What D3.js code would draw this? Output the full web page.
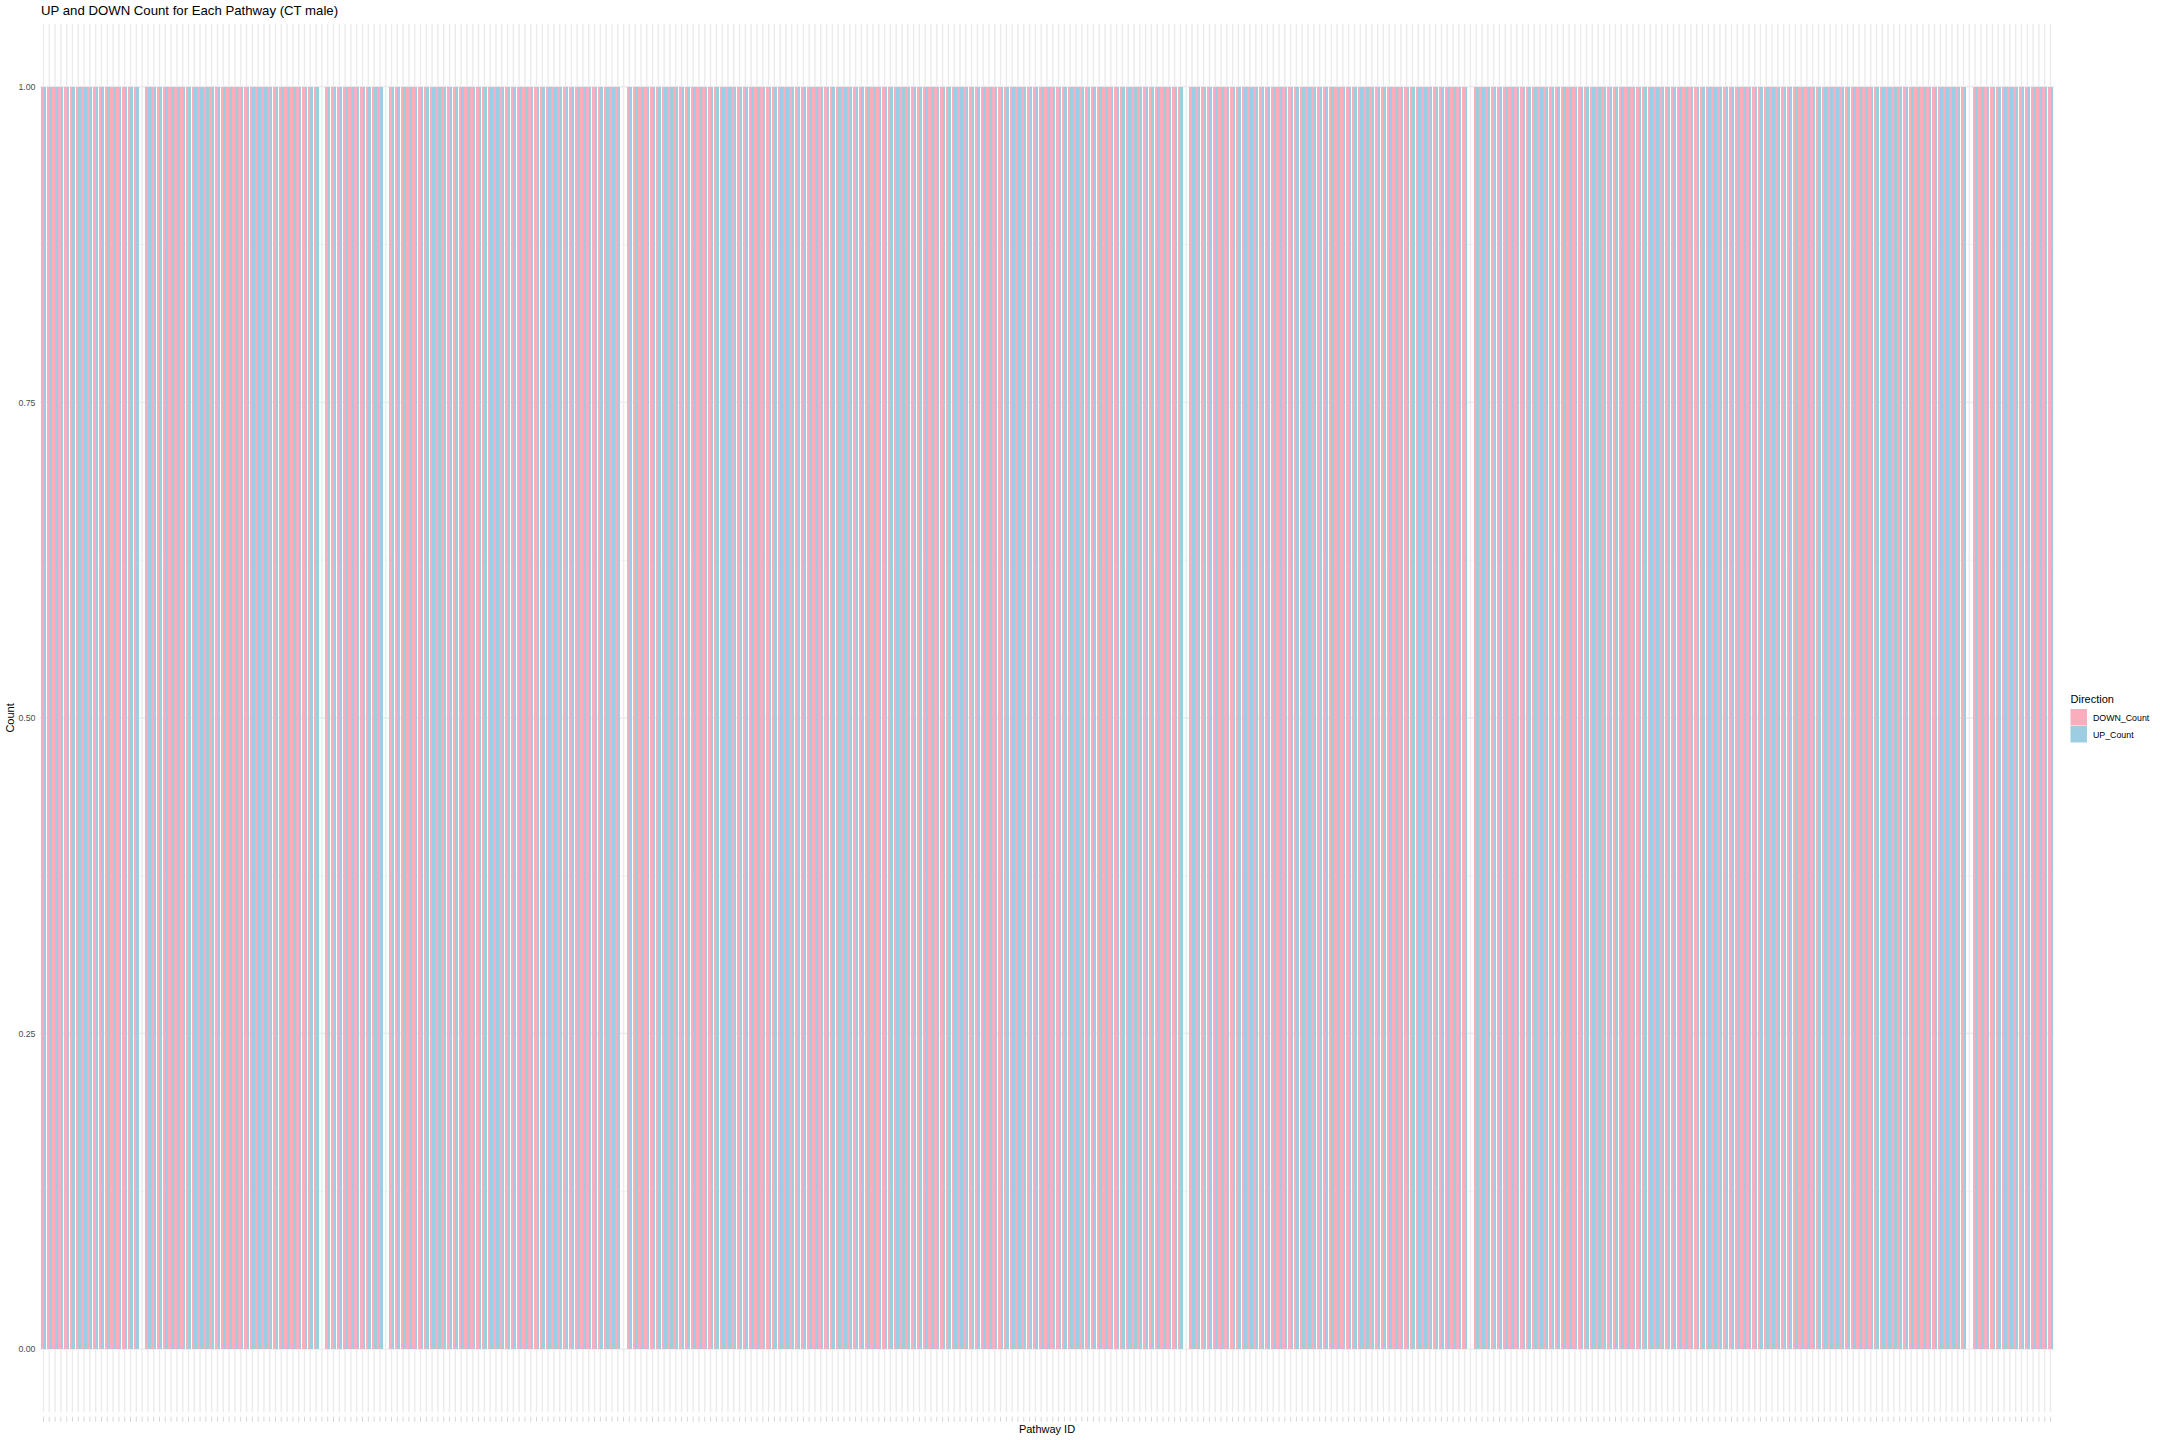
<!DOCTYPE html>
<html>
<head>
<meta charset="utf-8">
<script src="https://cdn.jsdelivr.net/npm/d3@7"></script>
<style>
  body { margin: 0; background: #fff; }
  text { font-family: "Liberation Sans", Arial, sans-serif; }
</style>
</head>
<body>
<div id="chart"></div>
<script>
// 0/1 counts per pathway, read left to right off the picture
const downCount = [
    1,1,1,1,1,1,1,1,1,1,1,1,1,1,1,1,1,0,1,1,
    1,1,1,1,1,1,1,1,1,1,1,1,1,1,1,1,1,1,1,1,
    1,1,1,1,1,1,1,1,0,1,1,1,1,1,1,1,1,1,1,0,
    1,1,1,1,1,1,1,1,1,1,1,1,1,1,1,1,1,1,1,1,
    1,1,1,1,1,1,1,1,1,1,1,1,1,1,1,1,1,1,1,1,
    0,1,1,1,1,1,1,1,1,1,1,1,1,1,1,1,1,1,1,1,
    1,1,1,1,1,1,1,1,1,1,1,1,1,1,1,1,1,1,1,1,
    1,1,1,1,1,1,1,1,1,1,1,1,1,1,1,1,1,1,1,1,
    1,1,1,1,1,1,1,1,1,1,1,1,1,1,1,1,1,1,1,1,
    1,1,1,1,1,1,1,1,1,1,1,1,1,1,1,1,1,0,1,1,
    1,1,1,1,1,1,1,1,1,1,1,1,1,1,1,1,1,1,1,1,
    1,1,1,1,1,1,1,1,1,1,1,1,1,1,1,1,1,1,1,1,
    1,1,1,1,1,1,0,1,1,1,1,1,1,1,1,1,1,1,1,1,
    1,1,1,1,1,1,1,1,1,1,1,1,1,1,1,1,1,1,1,1,
    1,1,1,1,1,1,1,1,1,1,1,1,1,1,1,1,1,1,1,1,
    1,1,1,1,1,1,1,1,1,1,1,1,1,1,1,1,1,1,1,1,
    1,1,1,1,1,1,1,1,1,1,1,1,0,1,1,1,1,1,1,1,
    1,1,1,1,1,1,1
];
const upCount = [
    1,1,1,1,1,1,1,1,1,1,1,1,1,1,1,1,1,0,1,1,
    1,1,1,1,1,1,1,1,1,1,1,1,1,1,1,1,1,1,1,1,
    1,1,1,1,1,1,1,1,0,1,1,1,1,1,1,1,1,1,1,0,
    1,1,1,1,1,1,1,1,1,1,1,1,1,1,1,1,1,1,1,1,
    1,1,1,1,1,1,1,1,1,1,1,1,1,1,1,1,1,1,1,1,
    0,1,1,1,1,1,1,1,1,1,1,1,1,1,1,1,1,1,1,1,
    1,1,1,1,1,1,1,1,1,1,1,1,1,1,1,1,1,1,1,1,
    1,1,1,1,1,1,1,1,1,1,1,1,1,1,1,1,1,1,1,1,
    1,1,1,1,1,1,1,1,1,1,1,1,1,1,1,1,1,1,1,1,
    1,1,1,1,1,1,1,1,1,1,1,1,1,1,1,1,1,0,1,1,
    1,1,1,1,1,1,1,1,1,1,1,1,1,1,1,1,1,1,1,1,
    1,1,1,1,1,1,1,1,1,1,1,1,1,1,1,1,1,1,1,1,
    1,1,1,1,1,1,0,1,1,1,1,1,1,1,1,1,1,1,1,1,
    1,1,1,1,1,1,1,1,1,1,1,1,1,1,1,1,1,1,1,1,
    1,1,1,1,1,1,1,1,1,1,1,1,1,1,1,1,1,1,1,1,
    1,1,1,1,1,1,1,1,1,1,1,1,1,1,1,1,1,1,1,1,
    1,1,1,1,1,1,1,1,1,1,1,1,0,1,1,1,1,1,1,1,
    1,1,1,1,1,1,1
];
// pathway labels are too small to read in the picture
const pathwayIds = downCount.map((d, i) => 'PW' + String(i + 1).padStart(3, '0'));
const directions = ['DOWN_Count', 'UP_Count'];
const yTicks = [0, 0.25, 0.5, 0.75, 1];
const yMinor = [0.125, 0.375, 0.625, 0.875];

const width = 2160;
const height = 1440;
const panel = { left: 40, right: 2054, top: 23.7, bottom: 1412.2 };
const colors = { DOWN_Count: '#F9ADBD', UP_Count: '#9DCDE0' };

const svg = d3.select('#chart')
    .append('svg')
    .attr('width', width)
    .attr('height', height);

// ggplot-like discrete scale: 0.6 units of expansion each side, bars 0.9 wide
const x = d3.scaleBand()
    .domain(pathwayIds)
    .range([panel.left, panel.right])
    .paddingInner(0.1)
    .paddingOuter(0.15);

const xDir = d3.scaleBand()
    .domain(directions)
    .range([0, x.bandwidth()]);

const y = d3.scaleLinear()
    .domain([-0.05, 1.05])
    .range([panel.bottom, panel.top]);

// grid
const grid = svg.append('g');
grid.selectAll('line.minor')
    .data(yMinor)
    .enter()
    .append('line')
    .attr('x1', panel.left).attr('x2', panel.right)
    .attr('y1', d => y(d)).attr('y2', d => y(d))
    .attr('stroke', '#EBEBEB')
    .attr('stroke-width', 0.7);
grid.selectAll('line.major')
    .data(yTicks)
    .enter()
    .append('line')
    .attr('x1', panel.left).attr('x2', panel.right)
    .attr('y1', d => y(d)).attr('y2', d => y(d))
    .attr('stroke', '#EBEBEB')
    .attr('stroke-width', 1.4);
grid.selectAll('line.vert')
    .data(pathwayIds)
    .enter()
    .append('line')
    .attr('x1', d => x(d) + x.bandwidth() / 2)
    .attr('x2', d => x(d) + x.bandwidth() / 2)
    .attr('y1', panel.top).attr('y2', panel.bottom)
    .attr('stroke', '#EBEBEB')
    .attr('stroke-width', 1.4);

// bars
const rows = [];
pathwayIds.forEach((id, i) => {
    rows.push({ id: id, dir: 'DOWN_Count', value: downCount[i] });
    rows.push({ id: id, dir: 'UP_Count', value: upCount[i] });
});

svg.append('g')
    .attr('shape-rendering', 'crispEdges')
    .selectAll('rect')
    .data(rows.filter(d => d.value > 0))
    .enter()
    .append('rect')
    .attr('x', d => x(d.id) + xDir(d.dir))
    .attr('y', d => y(d.value))
    .attr('width', xDir.bandwidth())
    .attr('height', d => y(0) - y(d.value))
    .attr('fill', d => colors[d.dir]);

// y axis labels
const yAxis = svg.append('g')
    .attr('transform', `translate(${panel.left - 2.5},0)`)
    .call(d3.axisLeft(y).tickValues(yTicks).tickFormat(d3.format('.2f')).tickSize(0).tickPadding(2));
yAxis.select('.domain').remove();
yAxis.selectAll('text')
    .attr('fill', '#4D4D4D')
    .style('font-size', '8.8px')
    .style('font-family', '"Liberation Sans", Arial, sans-serif');

// tiny x labels, drawn as short marks
const xAxis = svg.append('g')
    .attr('transform', `translate(0,${panel.bottom + 4.5})`)
    .call(d3.axisBottom(x).tickSize(5).tickFormat(''));
xAxis.select('.domain').remove();
xAxis.selectAll('line')
    .attr('stroke', '#D6D6D6')
    .attr('stroke-width', 1);

// titles
svg.append('text')
    .attr('x', 41)
    .attr('y', 15)
    .style('font-size', '13.2px')
    .attr('fill', '#000')
    .text('UP and DOWN Count for Each Pathway (CT male)');

svg.append('text')
    .attr('x', (panel.left + panel.right) / 2)
    .attr('y', 1433)
    .attr('text-anchor', 'middle')
    .style('font-size', '11px')
    .attr('fill', '#000')
    .text('Pathway ID');

svg.append('text')
    .attr('transform', `translate(14,${(panel.top + panel.bottom) / 2}) rotate(-90)`)
    .attr('text-anchor', 'middle')
    .style('font-size', '11px')
    .attr('fill', '#000')
    .text('Count');

// legend
const legend = svg.append('g').attr('transform', 'translate(2070.5,0)');
legend.append('text')
    .attr('x', 0)
    .attr('y', 702.5)
    .style('font-size', '11px')
    .attr('fill', '#000')
    .text('Direction');

legend.selectAll('rect')
    .data(directions)
    .enter()
    .append('rect')
    .attr('x', 0)
    .attr('y', (d, i) => 709 + i * 17)
    .attr('width', 16.5)
    .attr('height', 16.5)
    .attr('fill', d => colors[d]);

legend.selectAll('text.lab')
    .data(directions)
    .enter()
    .append('text')
    .attr('class', 'lab')
    .attr('x', 22.5)
    .attr('y', (d, i) => 717.5 + i * 17)
    .attr('dy', '0.35em')
    .style('font-size', '8.8px')
    .attr('fill', '#000')
    .text(d => d);
</script>
</body>
</html>
